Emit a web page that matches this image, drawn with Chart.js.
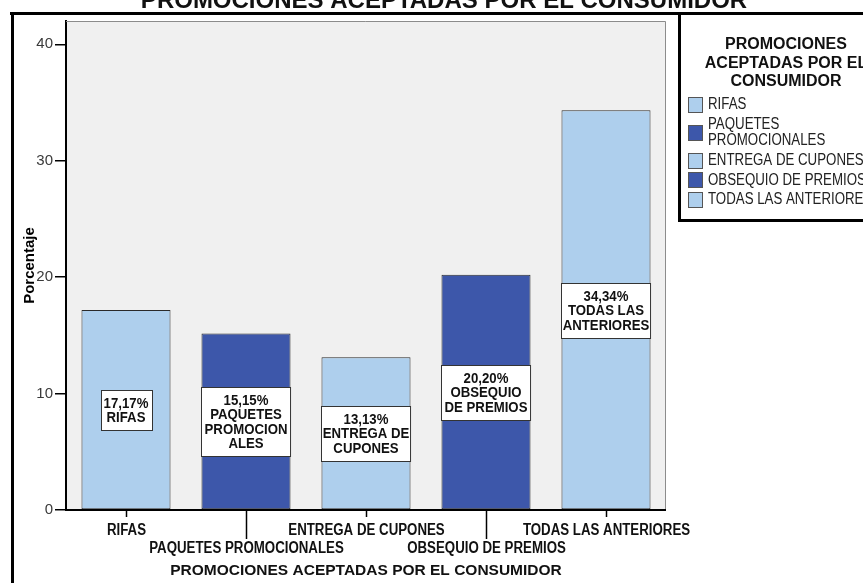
<!DOCTYPE html>
<html>
<head>
<meta charset="utf-8">
<script src="https://cdn.jsdelivr.net/npm/chart.js@4/dist/chart.umd.min.js"></script>
<style>
  html, body { margin: 0; padding: 0; background: #fff; }
  #wrap { width: 863px; height: 583px; position: relative; }
</style>
</head>
<body>
<div id="wrap"><canvas id="c" width="863" height="583"></canvas></div>
<script>
// Categories and percentages of accepted promotions
const categories = ['RIFAS', 'PAQUETES PROMOCIONALES', 'ENTREGA DE CUPONES', 'OBSEQUIO DE PREMIOS', 'TODAS LAS ANTERIORES'];
const percentages = [17.17, 15.15, 13.13, 20.20, 34.34];
const barColors = ['#aecfed', '#3d57aa', '#aecfed', '#3d57aa', '#aecfed'];
const yTicks = [0, 10, 20, 30, 40];
const barLabelLines = [['RIFAS'], ['PAQUETES', 'PROMOCION', 'ALES'], ['ENTREGA DE', 'CUPONES'], ['OBSEQUIO', 'DE PREMIOS'], ['TODAS LAS', 'ANTERIORES']];
const legendLines = [['RIFAS'], ['PAQUETES', 'PROMOCIONALES'], ['ENTREGA DE CUPONES'], ['OBSEQUIO DE PREMIOS'], ['TODAS LAS ANTERIORES']];
const chartTitle = 'PROMOCIONES ACEPTADAS POR EL CONSUMIDOR';
const xTitle = 'PROMOCIONES ACEPTADAS POR EL CONSUMIDOR';
const legendTitle = ['PROMOCIONES', 'ACEPTADAS POR EL', 'CONSUMIDOR'];
const yTitle = 'Porcentaje';

const FONT = '"Liberation Sans", Arial, sans-serif';

function pct(v) { return v.toFixed(2).replace('.', ',') + '%'; }

// condensed lettering: regular glyphs squeezed horizontally by factor k
function narrowWidth(ctx, t, k) { return ctx.measureText(t).width * k; }
function narrowText(ctx, t, x, y, align, k) {
  ctx.save();
  ctx.translate(x, y);
  ctx.scale(k, 1);
  ctx.textAlign = align;
  ctx.fillText(t, 0, 0);
  ctx.restore();
}

const decorPlugin = {
  id: 'decor',
  beforeDraw(chart) {
    const { ctx, chartArea: a } = chart;
    ctx.save();
    ctx.fillStyle = '#ffffff';
    ctx.fillRect(0, 0, chart.width, chart.height);
    ctx.fillStyle = '#f0f0f0';
    ctx.fillRect(a.left, a.top, a.right - a.left, a.bottom - a.top);
    ctx.restore();
  },
  afterDraw(chart) {
    const { ctx, chartArea: a } = chart;
    const xs = chart.scales.x, ys = chart.scales.y;
    const meta = chart.getDatasetMeta(0);
    ctx.save();

    // plot frame: light top/right, dark baseline
    ctx.strokeStyle = '#8c8c8c';
    ctx.lineWidth = 1;
    ctx.beginPath();
    ctx.moveTo(a.left, a.top + 0.5);
    ctx.lineTo(a.right - 0.5, a.top + 0.5);
    ctx.lineTo(a.right - 0.5, a.bottom);
    ctx.stroke();
    ctx.strokeStyle = '#000';
    ctx.lineWidth = 2;
    ctx.beginPath();
    ctx.moveTo(a.left - 1, a.bottom);
    ctx.lineTo(a.right, a.bottom);
    ctx.stroke();

    // value labels in the middle of each bar
    ctx.textBaseline = 'middle';
    ctx.font = 'bold 15px ' + FONT;
    const lh = 14.5, pad = 5.5, kLab = 0.88;
    percentages.forEach((v, i) => {
      const bar = meta.data[i];
      const bw = bar.width;
      const lines = [pct(v)].concat(barLabelLines[i]);
      let tw = 0;
      lines.forEach(t => { tw = Math.max(tw, narrowWidth(ctx, t, kLab)); });
      const boxW = (tw + 6 < bw * 0.6) ? Math.round(tw + 6) : bw;
      const boxH = Math.round(lines.length * lh + 2 * pad);
      const cy = ys.getPixelForValue(v / 2);
      const bx = Math.round(bar.x - boxW / 2) + 0.5;
      const by = Math.round(cy - boxH / 2) + 0.5;
      ctx.fillStyle = '#fff';
      ctx.fillRect(bx, by, boxW, boxH);
      ctx.strokeStyle = '#333';
      ctx.lineWidth = 1;
      ctx.strokeRect(bx, by, boxW, boxH);
      ctx.fillStyle = '#111';
      lines.forEach((t, k) => {
        narrowText(ctx, t, bar.x, by + pad + lh * k + lh / 2 + 0.5, 'center', kLab);
      });
    });

    // staggered category labels with their tick marks
    ctx.font = 'bold 16px ' + FONT;
    ctx.fillStyle = '#111';
    ctx.strokeStyle = '#000';
    ctx.lineWidth = 1.5;
    categories.forEach((c, i) => {
      const x = Math.round(xs.getPixelForValue(i)) + 0.5;
      const low = i % 2 === 1;
      ctx.beginPath();
      ctx.moveTo(x, a.bottom);
      ctx.lineTo(x, low ? 539 : 517);
      ctx.stroke();
      narrowText(ctx, c, x, low ? 548.5 : 530.5, 'center', 0.83);
    });

    // x axis title
    ctx.textAlign = 'center';
    ctx.font = 'bold 15.5px ' + FONT;
    ctx.fillText(xTitle, (a.left + a.right) / 2, 570.5);

    // chart title (top, partly above the page)
    ctx.font = 'bold 24px ' + FONT;
    ctx.textBaseline = 'alphabetic';
    ctx.fillText(chartTitle, 444, 8);

    // legend
    ctx.textBaseline = 'middle';
    ctx.font = 'bold 16px ' + FONT;
    legendTitle.forEach((t, k) => {
      ctx.fillText(t, 786, 45 + k * 18.5);
    });
    ctx.font = '16px ' + FONT;
    let top = 94.5;
    legendLines.forEach((lines, i) => {
      const h = lines.length === 1 ? 19.5 : 36.5;
      const cy = top + h / 2;
      ctx.fillStyle = barColors[i];
      ctx.fillRect(688.5, Math.round(cy - 7.5) + 0.5, 14, 15);
      ctx.strokeStyle = '#555';
      ctx.lineWidth = 1;
      ctx.strokeRect(688.5, Math.round(cy - 7.5) + 0.5, 14, 15);
      ctx.fillStyle = '#222';
      lines.forEach((t, k) => {
        const ty = cy + (k - (lines.length - 1) / 2) * 15.5;
        narrowText(ctx, t, 708, ty + 0.5, 'left', 0.83);
      });
      top += h;
    });

    // outer frame and legend box
    ctx.strokeStyle = '#000';
    ctx.lineWidth = 3;
    ctx.beginPath();
    ctx.moveTo(10, 13.5);
    ctx.lineTo(863, 13.5);
    ctx.moveTo(12.5, 12);
    ctx.lineTo(12.5, 583);
    ctx.moveTo(679.5, 12);
    ctx.lineTo(679.5, 221);
    ctx.moveTo(678, 220.5);
    ctx.lineTo(863, 220.5);
    ctx.stroke();

    ctx.restore();
  }
};

new Chart(document.getElementById('c').getContext('2d'), {
  type: 'bar',
  data: {
    labels: categories,
    datasets: [{
      data: percentages,
      backgroundColor: barColors,
      borderColor: '#2a2a2a',
      borderWidth: 1,
      borderSkipped: false,
      barPercentage: 0.742,
      categoryPercentage: 1
    }]
  },
  options: {
    responsive: false,
    animation: false,
    devicePixelRatio: 1,
    layout: { padding: { left: 0, right: 197, top: 21, bottom: 0 } },
    plugins: { legend: { display: false }, tooltip: { enabled: false }, title: { display: false } },
    scales: {
      x: {
        grid: { display: false },
        border: { display: false },
        ticks: { display: false },
        afterFit(s) { s.height = 73; }
      },
      y: {
        min: 0,
        max: 42,
        afterBuildTicks(s) { s.ticks = yTicks.map(v => ({ value: v })); },
        grid: { drawOnChartArea: false, drawTicks: true, tickLength: 11, color: '#000', lineWidth: 1.5 },
        border: { display: true, color: '#000', width: 2 },
        ticks: { padding: 2, color: '#3a3a3a', font: { family: FONT, size: 15 } },
        title: {
          display: true,
          text: yTitle,
          color: '#000',
          font: { family: FONT, size: 15, weight: 'bold' },
          padding: { top: 21, bottom: 0 }
        },
        afterFit(s) { s.width = 66; }
      }
    }
  },
  plugins: [decorPlugin]
});
</script>
</body>
</html>
